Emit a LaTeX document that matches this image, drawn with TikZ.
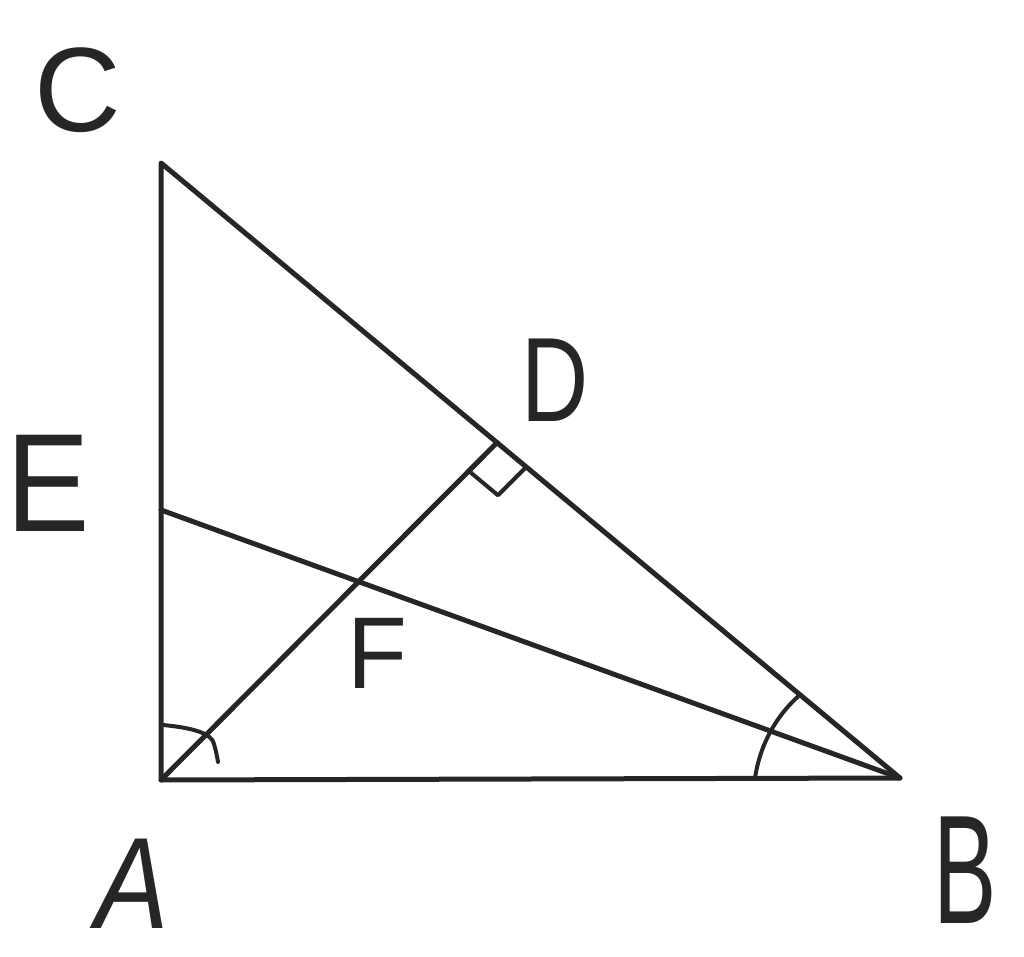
\documentclass[tikz,border=0pt]{standalone}
\usepackage{fontspec}
\setmainfont{Liberation Sans}
\usetikzlibrary{calc,intersections}
\begin{document}
\begin{tikzpicture}[x=1pt,y=1pt,
  seg/.style={line width=5pt,line join=round,line cap=round,black!85},
  angmark/.style={line width=4pt,line cap=round,line join=round,black!85},
  lbl/.style={inner sep=0pt,font=\fontsize{100}{100}\selectfont,text=black!85}]
\useasboundingbox (0,0) rectangle (1024,956);
\coordinate (A) at (161,176);
\coordinate (B) at (900,178);
\coordinate (C) at (161,793);
\coordinate (E) at (161,446);
\coordinate (D) at ($(C)!0.4547!(B)$);
\path[name path=ad] (A) -- (D);
\path[name path=eb] (E) -- (B);
\path[name intersections={of=ad and eb,by=F}];
% triangle and cevians
\draw[seg] (A) -- (B) -- (C) -- cycle;
\draw[seg] (A) -- (D);
\draw[seg] (E) -- (B);
% right angle at D
\coordinate (P1) at ($(D)!40pt!(A)$);
\coordinate (P2) at ($(D)!38pt!(B)$);
\draw[angmark] (P1) -- ($(P1)+(P2)-(D)$) -- (P2);
% angle mark at A
\draw[angmark] (163,231) .. controls (195,228) and (212,222) .. (214,212) .. controls (216,205) and (217,200) .. (218,194);
% angle marks at B
\draw[angmark] plot[variable=\t,domain=180:140,samples=25,smooth]
  ({900+(145-0.375*(180-\t))*cos(\t)},{178+(145-0.375*(180-\t))*sin(\t)});
% labels
\node[lbl] (lC) at (78,866) {\scalebox{1.2}[1.2]{C}};
\node[lbl] (lD) at (555,576) {\scalebox{0.93}[1.2]{D}};
\node[lbl] (lE) at (48,473) {\scalebox{1.25}[1.4]{E}};
\node[lbl] (lF) at (377,303) {\scalebox{0.98}[1.02]{F}};
\node[lbl] (lA) at (132,72) {\scalebox{1.1}[1.3]{\itshape A}};
\node[lbl] (lB) at (965,86) {\scalebox{0.95}[1.55]{B}};
\end{tikzpicture}
\end{document}
